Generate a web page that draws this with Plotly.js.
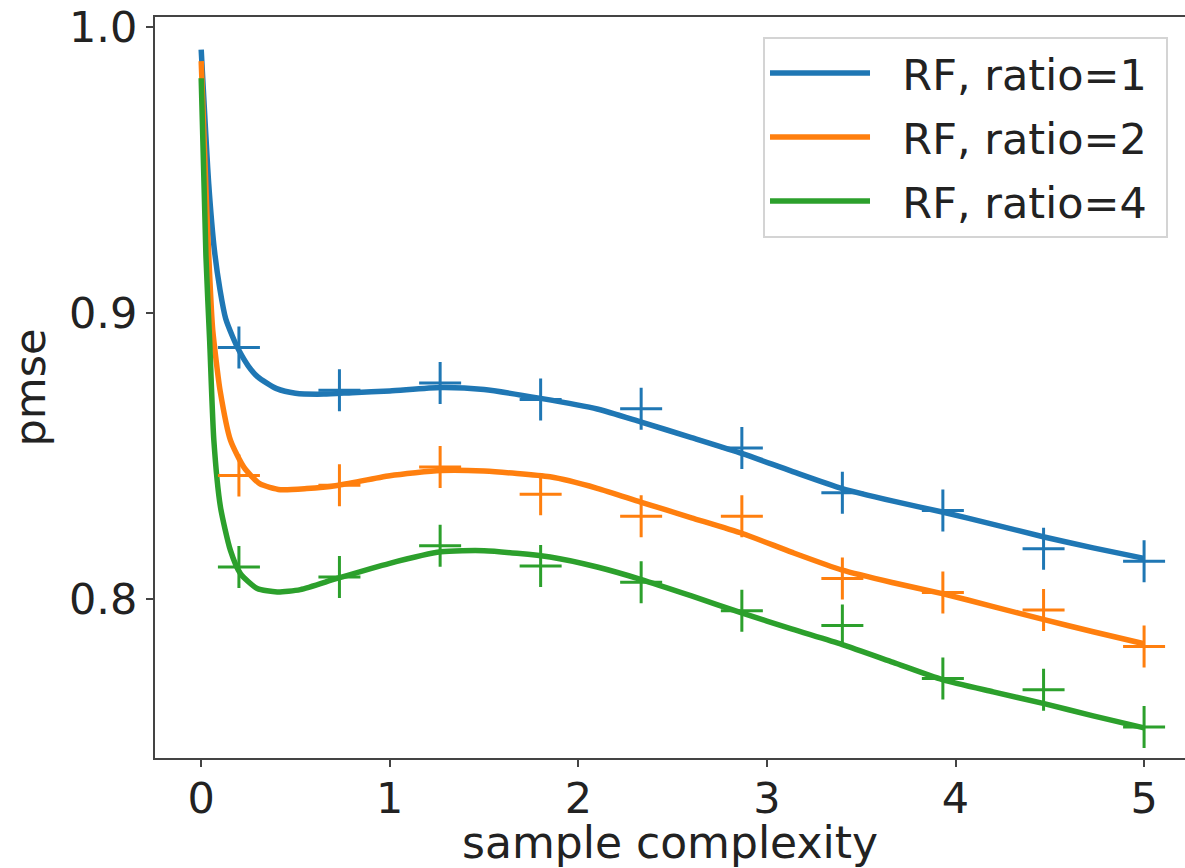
<!DOCTYPE html>
<html>
<head>
<meta charset="utf-8">
<script src="https://cdn.plot.ly/plotly-3.0.1.min.js"></script>
<style>html,body{margin:0;padding:0;background:#fff;}#chart{width:1185px;height:868px;}</style>
</head>
<body>
<div id="chart"></div>
<script>
// Curve samples
const blueLineX  = [0, 0.04, 0.07, 0.1, 0.13, 0.165, 0.2, 0.25, 0.3, 0.4, 0.5, 0.65, 0.8, 1.0, 1.27, 1.5, 1.8, 2.1, 2.33, 2.6, 2.87, 3.13, 3.4, 3.67, 3.93, 4.2, 4.47, 4.73, 5.0];
const blueLineY  = [0.992, 0.945, 0.922, 0.908, 0.898, 0.892, 0.887, 0.8815, 0.8777, 0.8736, 0.872, 0.8717, 0.8722, 0.8728, 0.874, 0.8733, 0.8702, 0.8665, 0.862, 0.8565, 0.8509, 0.8448, 0.8387, 0.8343, 0.8305, 0.8262, 0.8218, 0.818, 0.8143];

const orangeLineX = [0, 0.03, 0.06, 0.08, 0.1, 0.155, 0.226, 0.31, 0.42, 0.56, 0.72, 1.0, 1.27, 1.5, 1.85, 2.1, 2.33, 2.6, 2.87, 3.13, 3.4, 3.67, 3.93, 4.2, 4.47, 4.73, 5.0];
const orangeLineY = [0.988, 0.935, 0.895, 0.883, 0.873, 0.8556, 0.8462, 0.8404, 0.8383, 0.8387, 0.8398, 0.8432, 0.845, 0.8448, 0.8428, 0.8388, 0.834, 0.8285, 0.823, 0.8165, 0.8102, 0.8058, 0.802, 0.7975, 0.7929, 0.7887, 0.7845];

const greenLineX = [0, 0.025, 0.045, 0.067, 0.102, 0.155, 0.208, 0.297, 0.403, 0.526, 0.72, 1.0, 1.27, 1.5, 1.85, 2.1, 2.33, 2.6, 2.87, 3.13, 3.4, 3.67, 3.93, 4.2, 4.47, 4.73, 5.0];
const greenLineY = [0.982, 0.92, 0.89, 0.8556, 0.8323, 0.8171, 0.809, 0.8038, 0.8026, 0.8034, 0.8073, 0.8126, 0.8166, 0.817, 0.8148, 0.8113, 0.807, 0.8012, 0.7952, 0.7897, 0.7842, 0.778, 0.772, 0.7677, 0.7636, 0.7593, 0.7551];

// Sampled points (crosses)
const pointX  = [0.2, 0.733, 1.267, 1.8, 2.333, 2.867, 3.4, 3.933, 4.467, 5.0];
const blueY   = [0.888, 0.873, 0.8756, 0.8698, 0.8666, 0.8529, 0.8372, 0.831, 0.8177, 0.8133];
const orangeY = [0.8433, 0.8399, 0.8462, 0.8367, 0.829, 0.829, 0.8073, 0.8024, 0.7963, 0.7835];
const greenY  = [0.8113, 0.8078, 0.8187, 0.8117, 0.806, 0.796, 0.7909, 0.7724, 0.7684, 0.7554];

const seriesNames = ['RF, ratio=1', 'RF, ratio=2', 'RF, ratio=4'];
const colors = ['#1f77b4', '#ff7f0e', '#2ca02c'];

const lineXs = [blueLineX, orangeLineX, greenLineX];
const lineYs = [blueLineY, orangeLineY, greenLineY];
const ptYs = [blueY, orangeY, greenY];
const NB = '\u00a0';

const traces = [];
for (let i = 0; i < 3; i++) {
  traces.push({
    x: lineXs[i], y: lineYs[i], mode: 'lines', name: NB + NB + seriesNames[i] + NB,
    legendgroup: 'g' + i,
    line: {color: colors[i], width: 5.5, shape: 'spline', smoothing: 0.6},
    hoverinfo: 'skip'
  });
}
for (let i = 0; i < 3; i++) {
  traces.push({
    x: pointX, y: ptYs[i], mode: 'markers', showlegend: false,
    legendgroup: 'g' + i,
    marker: {symbol: 'cross-thin', size: 30, color: colors[i], line: {color: colors[i], width: 3}},
    hoverinfo: 'skip'
  });
}

const axisColor = '#444';
const layout = {
  width: 1185, height: 868,
  margin: {l: 154.5, r: 0, t: 16.7, b: 110.3, pad: 0},
  paper_bgcolor: '#fff', plot_bgcolor: '#fff',
  font: {family: 'DejaVu Sans', size: 43, color: '#222'},
  showlegend: true,
  legend: {
    x: 0.9835, y: 0.9735, xanchor: 'right', yanchor: 'top',
    bgcolor: 'rgba(255,255,255,0.8)', bordercolor: '#d4d4d4', borderwidth: 2,
    font: {family: 'DejaVu Sans', size: 43, color: '#222'},
    traceorder: 'grouped', tracegroupgap: 5, itemwidth: 100
  },
  xaxis: {
    range: [-0.245, 5.217], dtick: 1, tick0: 0,
    showgrid: false, zeroline: false,
    showline: true, linecolor: axisColor, linewidth: 2, mirror: true,
    ticks: 'outside', ticklen: 7, tickwidth: 2, tickcolor: axisColor,
    ticklabelstandoff: -6,
    tickfont: {size: 43, color: '#222'},
    title: {text: 'sample complexity', font: {size: 44, color: '#222'}, standoff: 2}
  },
  yaxis: {
    range: [0.7446, 1.0034], dtick: 0.1, tick0: 0, tickformat: '.1f',
    showgrid: false, zeroline: false,
    showline: true, linecolor: axisColor, linewidth: 2, mirror: false,
    ticks: 'outside', ticklen: 7, tickwidth: 2, tickcolor: axisColor,
    tickfont: {size: 43, color: '#222'},
    title: {text: 'pmse', font: {size: 43, color: '#222'}, standoff: 10}
  }
};

Plotly.newPlot('chart', traces, layout, {displayModeBar: false, staticPlot: true});
</script>
</body>
</html>
